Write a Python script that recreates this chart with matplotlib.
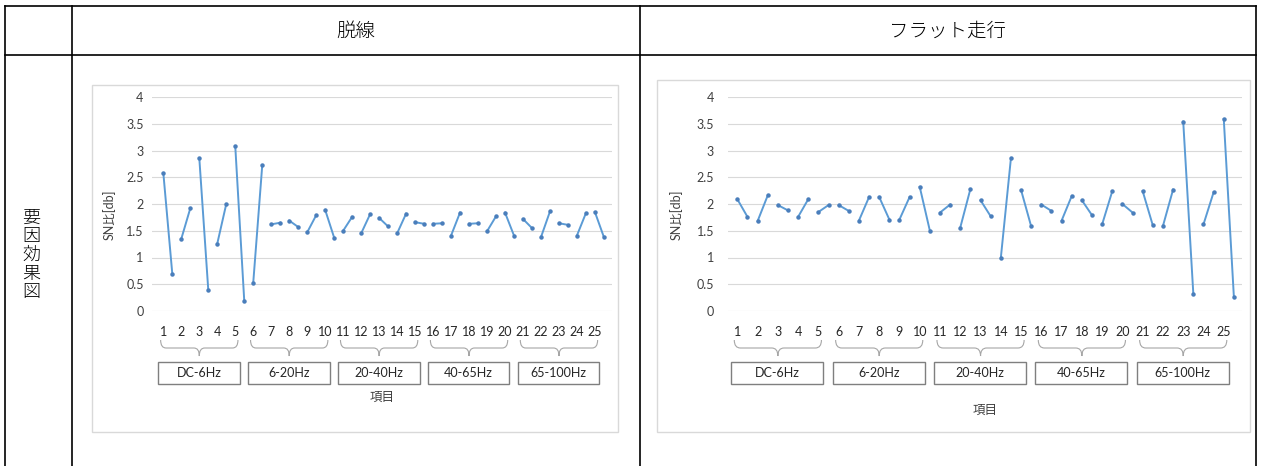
import numpy as np
import matplotlib.pyplot as plt
from matplotlib.lines import Line2D
from matplotlib.patches import Rectangle, PathPatch
from matplotlib.path import Path
import matplotlib.transforms as mtransforms

plt.rcParams['font.family'] = ['Lato', 'Noto Sans CJK JP', 'DejaVu Sans']

# SN ratio per factor (level 1, level 2)
derail_lv1 = [2.58, 1.35, 2.86, 1.26, 3.08, 0.53, 1.62, 1.69, 1.47, 1.89, 1.50, 1.45, 1.74,
              1.45, 1.66, 1.63, 1.41, 1.63, 1.49, 1.84, 1.72, 1.38, 1.64, 1.41, 1.85]
derail_lv2 = [0.69, 1.92, 0.39, 2.00, 0.19, 2.72, 1.65, 1.57, 1.79, 1.37, 1.76, 1.81, 1.58,
              1.82, 1.63, 1.64, 1.84, 1.64, 1.77, 1.41, 1.55, 1.86, 1.61, 1.83, 1.38]
flat_lv1 = [2.09, 1.68, 1.98, 1.76, 1.85, 1.98, 1.69, 2.13, 1.71, 2.32, 1.84, 1.56, 2.07,
            0.99, 2.26, 1.99, 1.69, 2.07, 1.62, 2.00, 2.24, 1.59, 3.54, 1.62, 3.59]
flat_lv2 = [1.76, 2.16, 1.88, 2.09, 1.98, 1.87, 2.13, 1.71, 2.13, 1.50, 1.99, 2.28, 1.77,
            2.86, 1.58, 1.87, 2.15, 1.79, 2.24, 1.84, 1.60, 2.27, 0.31, 2.22, 0.26]
factor_labels = [str(i) for i in range(1, 26)]
group_labels = ["DC-6Hz", "6-20Hz", "20-40Hz", "40-65Hz", "65-100Hz"]
y_ticks = [0, 0.5, 1, 1.5, 2, 2.5, 3, 3.5, 4]
y_ticklabels = ["0", "0.5", "1", "1.5", "2", "2.5", "3", "3.5", "4"]

W, H = 1261, 466
fig = plt.figure(figsize=(W / 100, H / 100), dpi=100)


def fx(px):
    return px / W


def fy(py):
    return 1 - py / H


# table frame
def tline(x0, y0, x1, y1):
    fig.add_artist(Line2D([fx(x0), fx(x1)], [fy(y0), fy(y1)], color='black', lw=1.2,
                          transform=fig.transFigure))


tline(5, 6, 1256, 6)
tline(5, 55, 1256, 55)
for xv in [5, 72, 640, 1256]:
    tline(xv, 6, xv, 466)

cjk = ['Noto Sans CJK JP']
fig.text(fx(356), fy(31), "脱線", ha='center', va='center', fontsize=14,
         family=cjk, fontweight='light')
fig.text(fx(948), fy(31), "フラット走行", ha='center', va='center', fontsize=14,
         family=cjk, fontweight='light')
fig.text(fx(31), fy(255), "\n".join("要因効果図"), ha='center', va='center', fontsize=13,
         family=cjk, fontweight='light', linespacing=1.05)


def brace(ax, x0, x1, yt, ym, yb, r=0.6):
    trans = mtransforms.blended_transform_factory(ax.transData, ax.transAxes)
    xm = (x0 + x1) / 2
    verts = [(x0, yt), (x0, ym), (x0 + r, ym), (xm - r, ym), (xm, ym), (xm, yb),
             (xm, ym), (xm + r, ym), (x1 - r, ym), (x1, ym), (x1, yt)]
    codes = [Path.MOVETO, Path.CURVE3, Path.CURVE3, Path.LINETO, Path.CURVE3, Path.CURVE3,
             Path.CURVE3, Path.CURVE3, Path.LINETO, Path.CURVE3, Path.CURVE3]
    ax.add_patch(PathPatch(Path(verts, codes), fill=False, edgecolor='#a6a6a6', lw=0.8,
                           transform=trans, clip_on=False))


def draw_chart(panel, ax_box, xlim, lv1, lv2, ylab_x, item_y, ypad):
    # panel frame (embedded excel picture)
    px0, py0, px1, py1 = panel
    fig.add_artist(Rectangle((fx(px0), fy(py1)), fx(px1 - px0), py1 / H - py0 / H,
                             transform=fig.transFigure, fill=False, edgecolor='#d9d9d9', lw=1))
    l, t, r, b = ax_box
    ax = fig.add_axes([fx(l), fy(b), fx(r - l), (b - t) / H])
    for i in range(len(lv1)):
        ax.plot([2 * i, 2 * i + 1], [lv1[i], lv2[i]], color='#5b9bd5', lw=1.4,
                marker='o', ms=2.2, mfc='#4a7ebb', mec='#4a7ebb', clip_on=False)
    ax.set_xlim(*xlim)
    ax.set_ylim(0, 4)
    ax.set_yticks(y_ticks)
    ax.set_yticklabels(y_ticklabels, fontsize=9, color='#404040')
    ax.yaxis.grid(True, color='#d9d9d9', lw=0.8)
    ax.set_axisbelow(True)
    ax.tick_params(axis='y', length=0, pad=ypad)
    ax.set_xticks(np.arange(len(factor_labels)) * 2)
    ax.set_xticklabels(factor_labels, fontsize=9, color='#262626')
    ax.tick_params(axis='x', length=0, pad=11)
    for s in ax.spines.values():
        s.set_visible(False)
    hgt = b - t
    ax.set_ylabel("SN比[db]", fontsize=9, color='#404040')
    ax.yaxis.set_label_coords((ylab_x - l) / (r - l), (b - 215) / hgt)

    def ay(py):
        return (b - py) / hgt

    trans = mtransforms.blended_transform_factory(ax.transData, ax.transAxes)
    for g, name in enumerate(group_labels):
        x0 = 10 * g
        brace(ax, x0 - 0.3, x0 + 8.3, ay(340), ay(348), ay(356))
        ax.add_patch(Rectangle((x0 - 0.6, ay(384)), 9.1, ay(362) - ay(384), transform=trans,
                               fill=True, facecolor='white', edgecolor='#7f7f7f', lw=1,
                               clip_on=False))
        ax.text(x0 + 3.95, ay(373), name, transform=trans, ha='center', va='center',
                fontsize=9, color='#262626')
    ax.text(0.5, ay(item_y), "項目", transform=ax.transAxes, ha='center', va='center',
            fontsize=9, color='#404040', family=cjk)
    return ax


draw_chart((92, 85, 618, 432), (152, 97, 612, 311), (-1.26, 49.9),
           derail_lv1, derail_lv2, 116, 397, 6)
draw_chart((657, 80, 1250, 432), (728, 97, 1242, 311), (-0.92, 49.8),
           flat_lv1, flat_lv2, 683, 410, 10)

fig.savefig("out.png", dpi=100)
